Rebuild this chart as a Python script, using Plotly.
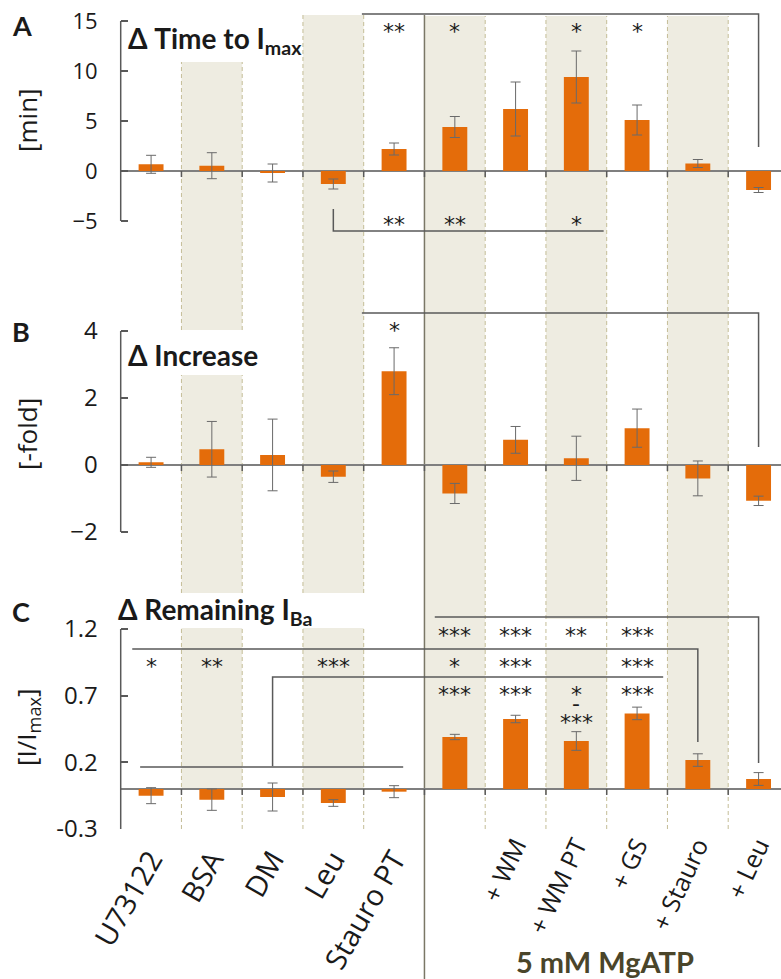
import plotly.graph_objects as go

# ---------------- data ----------------
categories = ["U73122", "BSA", "DM", "Leu", "Stauro PT", "",
              "+ WM", "+ WM PT", "+ GS", "+ Stauro", "+ Leu"]

time_vals = [0.67, 0.53, -0.2, -1.3, 2.2, 4.4, 6.2, 9.4, 5.1, 0.75, -1.9]
time_err = [0.9, 1.3, 0.9, 0.5, 0.6, 1.05, 2.7, 2.6, 1.5, 0.4, 0.25]

incr_vals = [0.08, 0.47, 0.3, -0.35, 2.8, -0.85, 0.75, 0.2, 1.1, -0.4, -1.07]
incr_err = [0.15, 0.83, 1.07, 0.17, 0.7, 0.3, 0.4, 0.66, 0.57, 0.52, 0.14]

rem_vals = [-0.05, -0.08, -0.06, -0.105, -0.02, 0.39, 0.525, 0.36, 0.567, 0.217, 0.075]
rem_err = [0.06, 0.08, 0.105, 0.025, 0.045, 0.02, 0.028, 0.07, 0.047, 0.047, 0.048]

time_ticks = [-5, 0, 5, 10, 15]
incr_ticks = [-2, 0, 2, 4]
rem_ticks = [-0.3, 0.2, 0.7, 1.2]
rem_ticktext = ["-0.3", "0.2", "0.7", "1.2"]

# significance marks: (category index, y value, text)
time_sig = [(4, 14.4, "**"), (5, 14.4, "*"), (7, 14.4, "*"), (8, 14.4, "*"),
            (4, -4.9, "**"), (5, -4.9, "**"), (7, -4.9, "*")]
incr_sig = [(4, 4.12, "*")]
rem_sig = [(5, 1.18, "***"), (6, 1.18, "***"), (7, 1.18, "**"), (8, 1.18, "***"),
           (0, 0.95, "*"), (1, 0.95, "**"), (3, 0.95, "***"), (5, 0.95, "*"),
           (6, 0.95, "***"), (8, 0.95, "***"),
           (5, 0.74, "***"), (6, 0.74, "***"), (7, 0.74, "*"), (8, 0.74, "***"),
           (7, 0.645, "-"), (7, 0.53, "***")]

# comparison brackets (category x, value y)
time_brackets = [[(3.47, 15.7), (10, 15.7), (10, 2.4)],
                 [(3, -3.8), (3, -6.0), (7.45, -6.0)]]
incr_brackets = [[(3.47, 4.54), (10, 4.54), (10, 0.54)]]
rem_brackets = [[(4.67, 1.29), (10, 1.29), (10, 0.195)],
                [(-0.31, 1.05), (9, 1.05), (9, 0.352)],
                [(8.43, 0.84), (2, 0.84), (2, 0.17)],
                [(-0.18, 0.165), (4.15, 0.165)]]

# ---------------- geometry / style ----------------
W, H = 781, 979
X_LEFT = 120.7
CAT_W = 60.75
ORANGE = "#E46C0A"
TAN = "#EEECE1"
TAN_DARK = "#C4BD97"
OLIVE = "#4A452A"
GRAY = "#595959"
TXT = "#1a1a1a"
FONT = "Lato"
TICKFONT = "Open Sans"

def py(p):
    return 1 - p / H

x_max = (W - X_LEFT) / CAT_W - 0.5
xs = list(range(len(categories)))
left_idx = [i for i in xs if i < 5]
right_idx = [i for i in xs if i > 5]

# panel: (zero_px, px_per_unit, top_px, bottom_px)
panels = {
    "y": (171.0, 10.0, 8, 240),
    "y2": (465.0, 33.5, 300, 545),
    "y3": (789.0, 133.33, 605, 829),
}

def axis_geom(key):
    z, s, t, b = panels[key]
    return [py(b), py(t)], [(z - b) / s, (z - t) / s]

fig = go.Figure()

series = [("y", time_vals, time_err), ("y2", incr_vals, incr_err), ("y3", rem_vals, rem_err)]
for yk, vals, errs in series:
    fig.add_trace(go.Bar(
        x=xs, y=vals, xaxis="x", yaxis=yk, width=0.41,
        marker=dict(color=ORANGE, line=dict(width=0)),
        error_y=dict(type="data", array=errs, visible=True, color="#6a6a6a",
                     thickness=1, width=5),
        showlegend=False, hoverinfo="skip"))

# invisible carrier so the second category axis (5 mM MgATP group labels) is drawn
fig.add_trace(go.Scatter(
    x=right_idx, y=[rem_vals[i] for i in right_idx], xaxis="x2", yaxis="y3",
    mode="markers", marker=dict(size=1, opacity=0), showlegend=False, hoverinfo="skip"))

shapes = []
# shaded bands (pixel segments)
band_segments = {
    1: [(62, 330), (375, 593), (628, 789)],
    3: [(15, 593), (628, 789)],
    5: [(16, 789)],
    7: [(16, 619), (648, 789)],
    9: [(16, 789)],
}
for i, segs in band_segments.items():
    for t, b in segs:
        shapes.append(dict(type="rect", xref="x", yref="paper", x0=i - 0.5, x1=i + 0.5,
                           y0=py(b), y1=py(t), fillcolor=TAN, line=dict(width=0),
                           layer="below"))
dash_segments = {
    0.5: [(62, 330), (375, 593), (628, 829)],
    1.5: [(62, 330), (375, 593), (628, 829)],
    2.5: [(15, 593), (628, 829)],
    3.5: [(15, 593), (628, 829)],
    5.5: [(16, 829)], 6.5: [(16, 829)], 7.5: [(16, 829)],
    8.5: [(16, 829)], 9.5: [(16, 829)],
}
for xb, segs in dash_segments.items():
    for t, b in segs:
        shapes.append(dict(type="line", xref="x", yref="paper", x0=xb, x1=xb,
                           y0=py(b), y1=py(t),
                           line=dict(color=TAN_DARK, width=1, dash="4px,3px"),
                           layer="below"))
# solid separator
shapes.append(dict(type="line", xref="x", yref="paper", x0=4.5, x1=4.5,
                   y0=0, y1=py(15), line=dict(color="#7a7766", width=1.5), layer="below"))

tick_sets = {"y": time_ticks, "y2": incr_ticks, "y3": rem_ticks}
for yk in ["y", "y2", "y3"]:
    z, s, t, b = panels[yk]
    ticks = tick_sets[yk]
    # y-axis bracket line
    shapes.append(dict(type="line", xref="x domain", yref=yk, x0=0, x1=0,
                       y0=min(ticks), y1=max(ticks), line=dict(color=GRAY, width=1.5)))
    # category ticks below zero line
    for k in range(len(categories) - 1):
        shapes.append(dict(type="line", xref="x", yref=yk, x0=k + 0.5, x1=k + 0.5,
                           y0=0, y1=-6 / s, line=dict(color=GRAY, width=1.5)))

for yk, brs in [("y", time_brackets), ("y2", incr_brackets), ("y3", rem_brackets)]:
    for br in brs:
        path = "M " + " L ".join(f"{x},{y}" for x, y in br)
        shapes.append(dict(type="path", xref="x", yref=yk, path=path,
                           line=dict(color=GRAY, width=1.5)))

annotations = []
for yk, sig in [("y", time_sig), ("y2", incr_sig), ("y3", rem_sig)]:
    for xi, yv, txt in sig:
        annotations.append(dict(x=xi, y=yv, xref="x", yref=yk, text=txt, showarrow=False,
                                font=dict(family="DejaVu Sans", size=22, color=TXT),
                                xanchor="center", yanchor="middle",
                                yshift=-4 if txt != "-" else 0))

def ann_paper(text, xpx, ypx, size, bold=False, color=TXT, xanchor="center", angle=0,
              family=FONT):
    return dict(text=(f"<b>{text}</b>" if bold else text), x=xpx / W, y=py(ypx),
                xref="paper", yref="paper", showarrow=False, xanchor=xanchor,
                yanchor="middle", textangle=angle,
                font=dict(family=family, size=size, color=color))

annotations += [
    ann_paper("A", 22, 25, 27, bold=True),
    ann_paper("B", 21, 331, 27, bold=True),
    ann_paper("C", 21, 611, 27, bold=True),
    ann_paper("Δ Time to I<sub>max</sub>", 126, 40, 28, bold=True, xanchor="left"),
    ann_paper("Δ Increase", 126, 355, 28, bold=True, xanchor="left"),
    ann_paper("Δ Remaining I<sub>Ba</sub>", 116, 611, 28, bold=True, xanchor="left"),
    ann_paper("[min]", 27, 120, 26, angle=-90, family=TICKFONT),
    ann_paper("[-fold]", 27, 434, 26, angle=-90, family=TICKFONT),
    ann_paper("[I/I<sub>max</sub>]", 27, 727, 26, angle=-90, family=TICKFONT),
    ann_paper("5 mM MgATP", 605, 961, 29, bold=True, color=OLIVE),
]

common_x = dict(domain=[X_LEFT / W, 1], range=[-0.5, x_max], anchor="y3",
                automargin=False, tickmode="array", ticks="", showline=False,
                showgrid=False, zeroline=False)

layout = dict(
    width=W, height=H, margin=dict(l=0, r=0, t=0, b=0, autoexpand=False),
    template="none",
    paper_bgcolor="white", plot_bgcolor="rgba(0,0,0,0)",
    showlegend=False, barmode="overlay",
    font=dict(family=FONT, color=TXT),
    xaxis=dict(**common_x,
               tickvals=left_idx, ticktext=[categories[i] for i in left_idx],
               tickangle=-60,
               tickfont=dict(family=TICKFONT, size=29, color=TXT), ticklabelstandoff=7),
    xaxis2=dict(**common_x, overlaying="x",
                tickvals=right_idx, ticktext=[categories[i] for i in right_idx],
                tickangle=-65,
                tickfont=dict(family=TICKFONT, size=25, color=TXT), ticklabelstandoff=-4),
    shapes=shapes, annotations=annotations,
)
tick_sizes = {"y": 22, "y2": 24, "y3": 24}
for yk, name in [("y", "yaxis"), ("y2", "yaxis2"), ("y3", "yaxis3")]:
    dom, rng = axis_geom(yk)
    ax = dict(domain=dom, range=rng, anchor="x", showline=False, showgrid=False,
              automargin=False,
              zeroline=True, zerolinecolor="#7f7f7f", zerolinewidth=1.5,
              ticks="inside", ticklen=7, tickwidth=1.5, tickcolor=GRAY,
              tickmode="array", tickvals=tick_sets[yk],
              tickfont=dict(family=TICKFONT, size=tick_sizes[yk], color=TXT),
              ticklabelstandoff=22)
    if yk == "y3":
        ax["ticktext"] = rem_ticktext
    layout[name] = ax

fig.update_layout(**layout)
fig.write_html("out.html")
